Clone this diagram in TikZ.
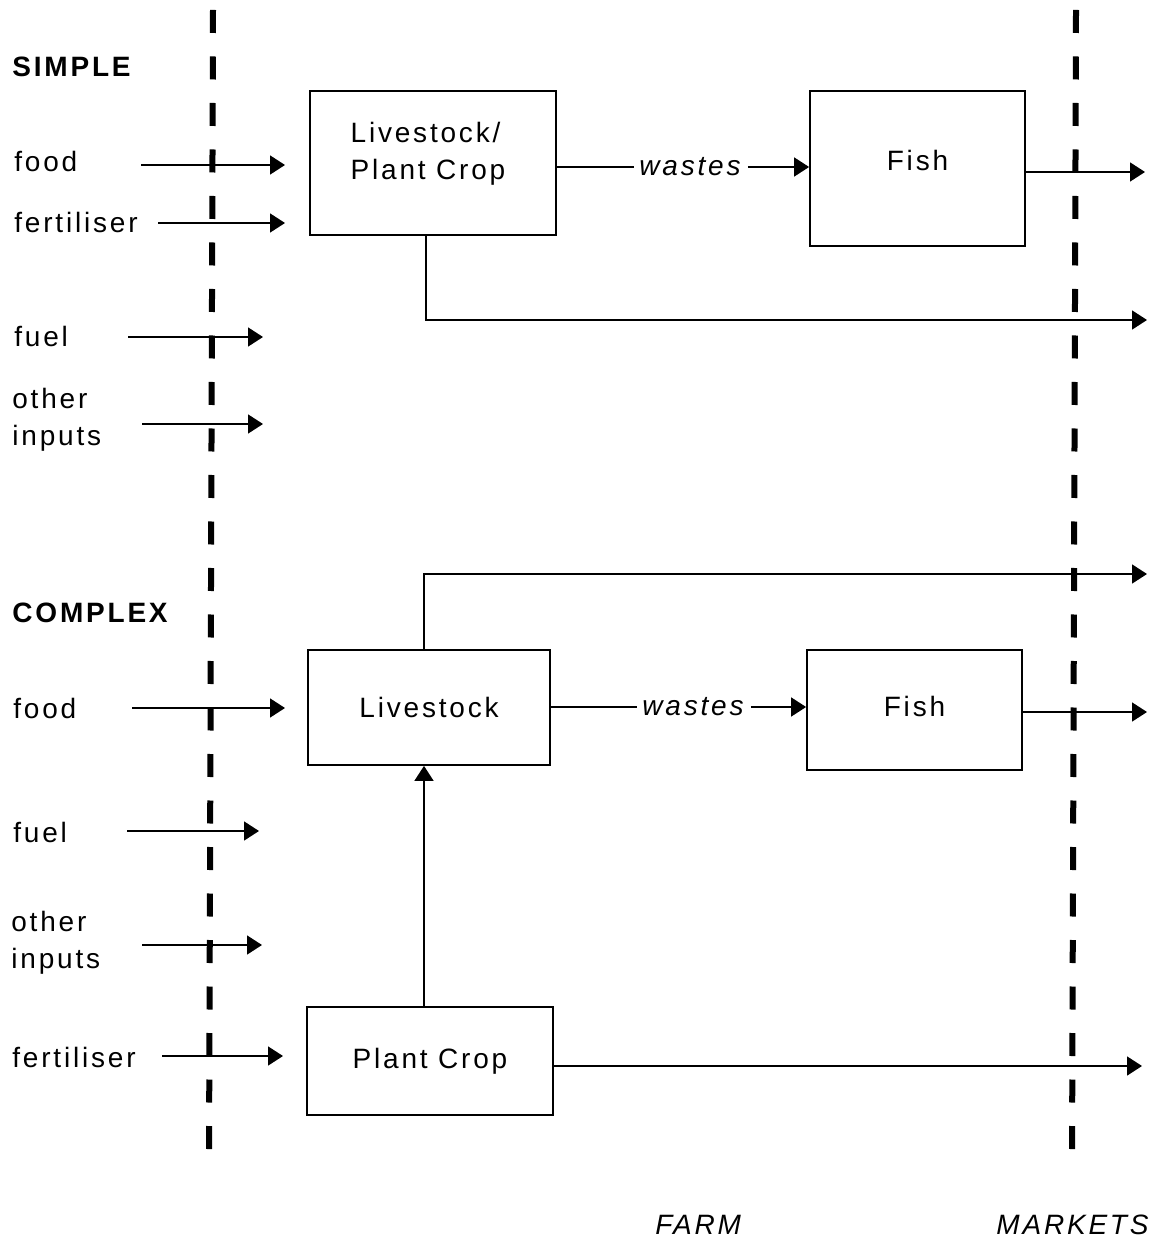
\documentclass[tikz,border=0pt]{standalone}
\usepackage{fontspec}
\setmainfont{Liberation Sans}[LetterSpace=10]
\usetikzlibrary{arrows.meta}
\newcommand\diagfont{\fontsize{14}{18.5}\selectfont}
\tikzset{
  box/.style={draw,line width=0.9pt,inner sep=0pt,align=center},
  arr/.style={-{Triangle[length=7.5pt,width=9.5pt]},line width=0.8pt},
  txt/.style={anchor=base west,inner sep=0pt,align=left},
  wst/.style={inner sep=1.5pt,font=\diagfont\itshape},
  border/.style={line width=3pt,dash pattern=on 11.5pt off 11.75pt}
}
\begin{document}
\begin{tikzpicture}[x=0.5pt,y=-0.5pt,every node/.style={font=\diagfont}]
\useasboundingbox(0,0)rectangle(1159,1240);
% farm / markets boundaries
\draw[border](213,10)--(209,1162);
\draw[border](1076,10)--(1072,1162);
% left hand labels
\node[txt,font=\diagfont\bfseries](simple)at(12,77){SIMPLE};
\node[txt](food1)at(14,172){food};
\node[txt](fert1)at(14,233){fertiliser};
\node[txt](fuel1)at(14,347){fuel};
\node[txt](other1)at(12,445){other\\inputs};
\node[txt,font=\diagfont\bfseries](complex)at(12,622){COMPLEX};
\node[txt](food2)at(13,718){food};
\node[txt](fuel2)at(13,842){fuel};
\node[txt](other2)at(11,968){other\\inputs};
\node[txt](fert2)at(12,1067){fertiliser};
\node[txt,font=\diagfont\itshape](farm)at(655,1234){FARM};
\node[txt,font=\diagfont\itshape](markets)at(996,1234){MARKETS};
% boxes
\node[box,minimum width=123pt,minimum height=72pt,label={[align=left,yshift=4.5pt,xshift=-2.5pt]center:{Livestock/\\Plant Crop}}](crop1)at(433,163){};
\node[box,minimum width=107.5pt,minimum height=77.5pt,label={[yshift=4pt]center:Fish}](fish1)at(917.5,168.5){};
\node[box,minimum width=121pt,minimum height=57.5pt](live)at(429,707.5){Livestock};
\node[box,minimum width=107.5pt,minimum height=60pt,label={[yshift=2pt]center:Fish}](fish2)at(914.5,710){};
\node[box,minimum width=123pt,minimum height=54pt](plant)at(430,1061){Plant Crop};
\node[wst](waste1)at(690,167){wastes};
\node[wst](waste2)at(693,707){wastes};
% inputs
\foreach \n/\y/\xa/\xb in {ina/165/141/285,inb/223/158/285,inc/337/128/263,ind/424/142/263,ine/708/132/285,inf/831/127/259,ing/945/142/262,inh/1056/162/283}{
  \coordinate(\n-s)at(\xa,\y);
  \coordinate(\n-e)at(\xb,\y);
  \draw[arr](\n-s)--(\n-e);
}
% outputs to markets
\coordinate(out1)at(1145,172);
\coordinate(out2)at(1147,320);
\coordinate(out3)at(1147,574);
\coordinate(out4)at(1147,712);
\coordinate(out5)at(1142,1066);
\draw[line width=0.8pt](crop1.east|-waste1)--([xshift=-1pt]waste1.west);
\draw[arr]([xshift=2pt]waste1.east)--(fish1.west|-waste1);
\draw[arr](fish1.east|-out1)--(out1);
\draw[arr]([xshift=-3.5pt]crop1.south)|-(out2);
\draw[arr]([xshift=-2.5pt]live.north)|-(out3);
\draw[line width=0.8pt](live.east|-waste2)--([xshift=-1pt]waste2.west);
\draw[arr]([xshift=2pt]waste2.east)--(fish2.west|-waste2);
\draw[arr](fish2.east|-out4)--(out4);
\draw[arr]([xshift=-3pt]plant.north)--([xshift=-3pt]plant.north|-live.south);
\draw[arr](plant.east|-out5)--(out5);
\end{tikzpicture}
\end{document}
